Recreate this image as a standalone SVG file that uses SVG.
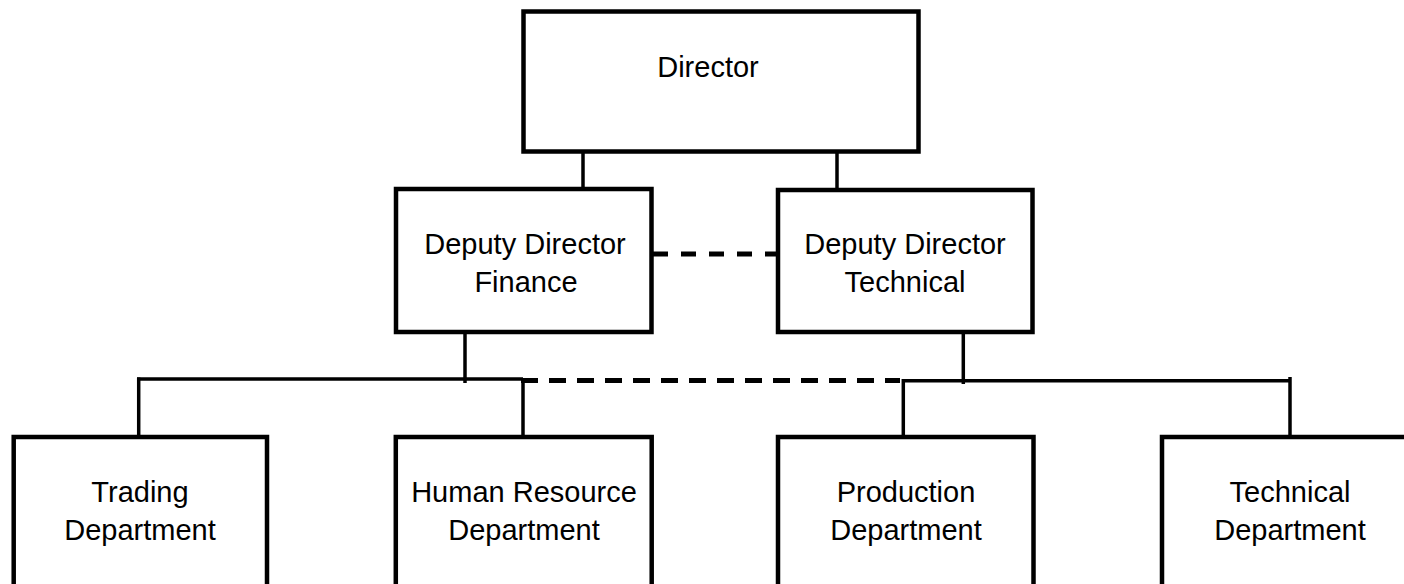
<svg xmlns="http://www.w3.org/2000/svg" width="1404" height="584" viewBox="0 0 1404 584">
  <style>
    .box { fill: #ffffff; stroke: #000000; stroke-width: 4.5; }
    .label { font-family: "Liberation Sans", Arial, sans-serif; font-size: 29px; fill: #000000; text-anchor: middle; }
    .link { stroke: #000000; stroke-width: 3.5; fill: none; }
    .dash { stroke: #000000; stroke-width: 5; fill: none; }
  </style>
  <rect x="0" y="0" width="1404" height="584" fill="#ffffff"/>

  <!-- connectors -->
  <g id="connectors">
    <!-- director to deputies -->
    <line class="link" x1="583" y1="153" x2="583" y2="188"/>
    <line class="link" x1="837" y1="153" x2="837" y2="188"/>
    <!-- dashed link between deputies -->
    <line class="dash" x1="653" y1="254" x2="777" y2="254" stroke-dasharray="15 13"/>
    <!-- finance branch -->
    <line class="link" x1="465" y1="333" x2="465" y2="383"/>
    <line class="link" x1="137" y1="379" x2="523" y2="379"/>
    <line class="link" x1="138.7" y1="377.5" x2="138.7" y2="436"/>
    <line class="link" x1="523" y1="379" x2="523" y2="436"/>
    <!-- dashed cross-link between branches -->
    <line class="dash" x1="521" y1="380.5" x2="900" y2="380.5" stroke-width="4.5" stroke-dasharray="17 11"/>
    <!-- technical branch -->
    <line class="link" x1="963.3" y1="333" x2="963.3" y2="384"/>
    <line class="link" x1="903.3" y1="380.8" x2="1290" y2="380.8"/>
    <line class="link" x1="903.3" y1="379" x2="903.3" y2="436"/>
    <line class="link" x1="1290" y1="377" x2="1290" y2="436"/>
  </g>

  <g id="director">
    <rect class="box" x="523.5" y="11.5" width="395" height="140"/>
    <text class="label" x="708" y="77">Director</text>
  </g>

  <g id="deputy-finance">
    <rect class="box" x="396" y="189" width="255.5" height="143"/>
    <text class="label" x="525" y="254">Deputy Director</text>
    <text class="label" x="526" y="292">Finance</text>
  </g>

  <g id="deputy-technical">
    <rect class="box" x="778" y="190" width="254.5" height="142"/>
    <text class="label" x="905" y="254">Deputy Director</text>
    <text class="label" x="905" y="292">Technical</text>
  </g>

  <g id="trading">
    <rect class="box" x="13.7" y="437" width="253.3" height="170"/>
    <text class="label" x="140" y="502">Trading</text>
    <text class="label" x="140" y="540">Department</text>
  </g>

  <g id="human-resource">
    <rect class="box" x="395.8" y="437" width="255.9" height="170"/>
    <text class="label" x="524" y="502">Human Resource</text>
    <text class="label" x="524" y="540">Department</text>
  </g>

  <g id="production">
    <rect class="box" x="778" y="437" width="255.5" height="170"/>
    <text class="label" x="906" y="502">Production</text>
    <text class="label" x="906" y="540">Department</text>
  </g>

  <g id="technical">
    <rect class="box" x="1162" y="437" width="260" height="170"/>
    <text class="label" x="1290" y="502">Technical</text>
    <text class="label" x="1290" y="540">Department</text>
  </g>
</svg>
